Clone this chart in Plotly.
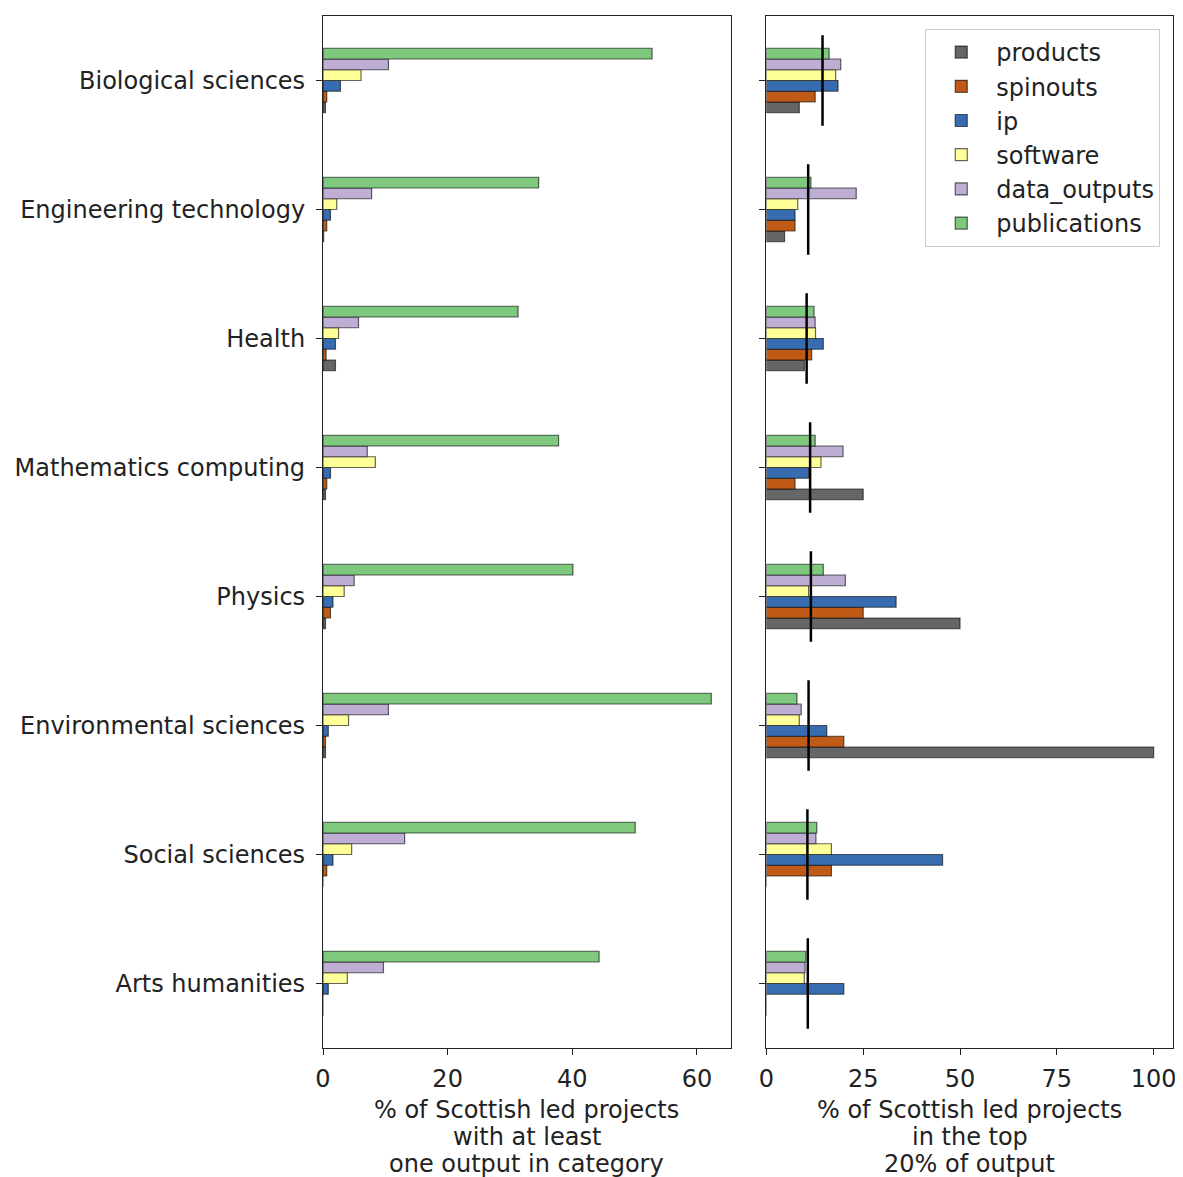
import plotly.graph_objects as go

# Categories listed bottom-to-top
categories = ["Arts humanities", "Social sciences", "Environmental sciences", "Physics",
              "Mathematics computing", "Health", "Engineering technology", "Biological sciences"]

series_names = ["products", "spinouts", "ip", "software", "data_outputs", "publications"]
colors = ["#666666", "#bf5b17", "#386cb0", "#ffff99", "#beaed4", "#7fc97f"]

# Left panel: % of Scottish led projects with at least one output in category
left_products     = [0.0, 0.0, 0.4, 0.4, 0.4, 2.0, 0.1, 0.4]
left_spinouts     = [0.0, 0.6, 0.4, 1.2, 0.6, 0.5, 0.6, 0.6]
left_ip           = [0.85, 1.6, 0.85, 1.6, 1.2, 2.0, 1.2, 2.8]
left_software     = [3.9, 4.6, 4.1, 3.4, 8.4, 2.5, 2.2, 6.1]
left_data_outputs = [9.7, 13.1, 10.5, 5.0, 7.1, 5.7, 7.8, 10.5]
left_publications = [44.3, 50.1, 62.3, 40.1, 37.8, 31.3, 34.6, 52.8]

# Right panel: % of Scottish led projects in the top 20% of output
right_products     = [0.0, 0.0, 100.0, 50.0, 25.0, 9.8, 4.7, 8.5]
right_spinouts     = [0.0, 16.8, 20.0, 25.0, 7.4, 11.7, 7.4, 12.6]
right_ip           = [20.0, 45.5, 15.6, 33.5, 10.9, 14.7, 7.4, 18.5]
right_software     = [9.8, 16.8, 8.5, 10.9, 14.1, 12.7, 8.1, 17.9]
right_data_outputs = [10.0, 12.8, 9.0, 20.4, 19.8, 12.6, 23.2, 19.2]
right_publications = [10.2, 13.0, 7.9, 14.7, 12.6, 12.3, 11.5, 16.2]

# Reference (vertical black marker) per category in right panel
right_reference = [10.7, 10.6, 10.9, 11.5, 11.3, 10.4, 10.8, 14.5]

left_title_lines = ["% of Scottish led projects", "with at least", "one output in category"]
right_title_lines = ["% of Scottish led projects", "in the top", "20% of output"]

left_series = [left_products, left_spinouts, left_ip, left_software, left_data_outputs, left_publications]
right_series = [right_products, right_spinouts, right_ip, right_software, right_data_outputs, right_publications]

ypos = list(range(len(categories)))
edge = dict(color="rgba(0,0,0,0.6)", width=1.2)

fig = go.Figure()
for name, col, vals in zip(series_names, colors, left_series):
    fig.add_trace(go.Bar(x=vals, y=ypos, orientation="h", name=name, marker=dict(color=col, line=edge),
                         xaxis="x", yaxis="y", showlegend=False, legendgroup=name))
for name, col, vals in zip(series_names, colors, right_series):
    fig.add_trace(go.Bar(x=vals, y=ypos, orientation="h", name=name, marker=dict(color=col, line=edge),
                         xaxis="x2", yaxis="y2", showlegend=True, legendgroup=name))

# vertical reference lines
half = 0.35
lx, ly = [], []
for i, v in zip(ypos, right_reference):
    lx += [v, v, None]
    ly += [i - half, i + half, None]
fig.add_trace(go.Scatter(x=lx, y=ly, mode="lines", line=dict(color="black", width=2.5),
                         xaxis="x2", yaxis="y2", showlegend=False, hoverinfo="skip"))

font = dict(family="DejaVu Sans", size=24, color="#222222")
axis_common = dict(showline=True, linecolor="#222222", linewidth=1.2, mirror=True, ticks="outside",
                   ticklen=6, tickcolor="#222222", showgrid=False, zeroline=False, tickfont=font)

left_dom = [0, 0.4795]
right_dom = [0.5216, 1]

fig.update_layout(
    width=1175, height=1169,
    margin=dict(l=313, r=7, t=7, b=129),
    paper_bgcolor="white", plot_bgcolor="white",
    barmode="group", bargap=0.5, bargroupgap=0,
    font=font,
    xaxis=dict(domain=left_dom, range=[0, 65.4], tickvals=[0, 20, 40, 60], ticklabelstandoff=3,
               **axis_common),
    yaxis=dict(domain=[0, 1], range=[-0.5, 7.5], tickvals=ypos, ticktext=categories, anchor="x",
               ticklabelstandoff=6, **axis_common),
    xaxis2=dict(domain=right_dom, range=[0, 105], tickvals=[0, 25, 50, 75, 100], anchor="y2",
                ticklabelstandoff=3, **axis_common),
    yaxis2=dict(domain=[0, 1], range=[-0.5, 7.5], tickvals=ypos, showticklabels=False, anchor="x2",
                **axis_common),
    legend=dict(x=0.985, y=0.9874, xanchor="right", yanchor="top", traceorder="normal",
                bgcolor="white", bordercolor="#cccccc", borderwidth=1, font=font,
                itemwidth=60, xref="paper", yref="paper"),
)

# Axis titles as line-by-line annotations (matplotlib-like line spacing)
for dom, lines in ((left_dom, left_title_lines), (right_dom, right_title_lines)):
    for k, txt in enumerate(lines):
        fig.add_annotation(text=txt, xref="paper", yref="paper", x=(dom[0] + dom[1]) / 2, y=0,
                           xanchor="center", yanchor="middle", yshift=-62 - 27 * k,
                           showarrow=False, font=font)

fig.write_html("out.html")
